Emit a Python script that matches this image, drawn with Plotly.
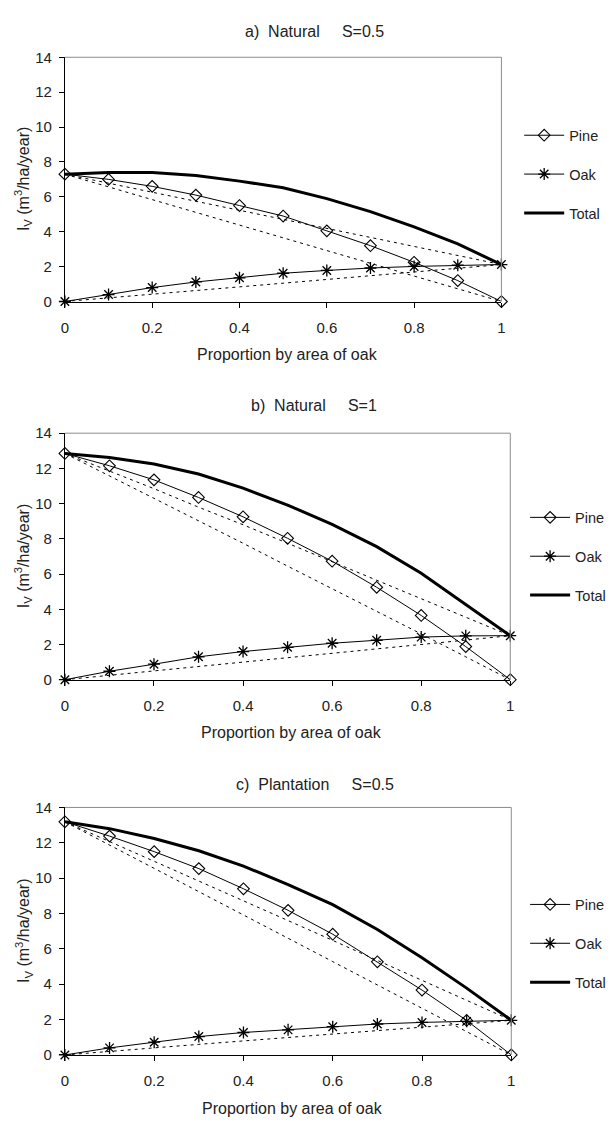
import plotly.graph_objects as go

# ---------------- data ----------------
x_prop = [0, 0.1, 0.2, 0.3, 0.4, 0.5, 0.6, 0.7, 0.8, 0.9, 1.0]
x_ticks = [0, 0.2, 0.4, 0.6, 0.8, 1.0]
x_ticklabels = ["0", "0.2", "0.4", "0.6", "0.8", "1"]
y_ticks = [0, 2, 4, 6, 8, 10, 12, 14]

SP2 = "\u00a0\u00a0"
SP6 = "\u00a0" * 5
titles = ["a)" + SP2 + "Natural" + SP6 + "S=0.5",
          "b)" + SP2 + "Natural" + SP6 + "S=1",
          "c)" + SP2 + "Plantation" + SP6 + "S=0.5"]
series_names = ["Pine", "Oak", "Total"]
x_title = "Proportion by area of oak"
y_title = "I<sub>V</sub> (m<sup>3</sup>/ha/year)"

# a) Natural S=0.5
a_pine = [7.3, 7.0, 6.6, 6.1, 5.5, 4.9, 4.05, 3.2, 2.25, 1.2, 0.0]
a_oak = [0.0, 0.4, 0.8, 1.12, 1.36, 1.62, 1.78, 1.92, 2.01, 2.08, 2.12]
a_total = [7.3, 7.4, 7.4, 7.22, 6.9, 6.52, 5.9, 5.15, 4.28, 3.3, 2.12]
a_pine_ref = [7.3, 6.57, 5.85, 5.12, 4.4, 3.66, 2.93, 2.2, 1.47, 0.74, 0.0]
a_oak_ref = [0.0, 0.2, 0.42, 0.63, 0.84, 1.05, 1.26, 1.47, 1.69, 1.9, 2.12]
a_total_ref = [7.3, 6.78, 6.28, 5.78, 5.26, 4.74, 4.2, 3.68, 3.16, 2.64, 2.12]

# b) Natural S=1
b_pine = [12.85, 12.15, 11.35, 10.35, 9.25, 8.03, 6.73, 5.25, 3.65, 1.88, 0.0]
b_oak = [0.0, 0.48, 0.88, 1.3, 1.6, 1.84, 2.07, 2.24, 2.42, 2.49, 2.5]
b_total = [12.85, 12.62, 12.25, 11.68, 10.88, 9.92, 8.82, 7.56, 6.05, 4.3, 2.5]
b_pine_ref = [12.85, 11.58, 10.3, 9.02, 7.75, 6.45, 5.18, 3.88, 2.6, 1.3, 0.0]
b_oak_ref = [0.0, 0.25, 0.5, 0.75, 1.0, 1.25, 1.5, 1.75, 2.0, 2.25, 2.5]
b_total_ref = [12.85, 11.85, 10.85, 9.8, 8.8, 7.75, 6.7, 5.65, 4.6, 3.55, 2.5]

# c) Plantation S=0.5
c_pine = [13.19, 12.38, 11.5, 10.54, 9.4, 8.18, 6.83, 5.27, 3.67, 1.95, 0.0]
c_oak = [0.0, 0.4, 0.72, 1.04, 1.27, 1.42, 1.6, 1.75, 1.84, 1.9, 1.96]
c_total = [13.19, 12.8, 12.24, 11.55, 10.68, 9.64, 8.5, 7.1, 5.5, 3.78, 1.96]
c_pine_ref = [13.19, 11.88, 10.56, 9.25, 7.93, 6.6, 5.28, 3.97, 2.65, 1.33, 0.0]
c_oak_ref = [0.0, 0.18, 0.4, 0.6, 0.8, 0.98, 1.18, 1.38, 1.57, 1.77, 1.96]
c_total_ref = [13.19, 12.08, 10.96, 9.84, 8.72, 7.6, 6.48, 5.36, 4.22, 3.1, 1.96]

panels = [
    (a_pine, a_oak, a_total, a_pine_ref, a_oak_ref, a_total_ref),
    (b_pine, b_oak, b_total, b_pine_ref, b_oak_ref, b_total_ref),
    (c_pine, c_oak, c_total, c_pine_ref, c_oak_ref, c_total_ref),
]

# ---------------- layout geometry (pixels) ----------------
W, H = 612, 1125
FONT = "Liberation Sans, Arial, sans-serif"
TXT = "#222222"
plot_boxes = [  # left, right, top, bottom in px
    (61.7, 504.0, 49.0, 297.0),
    (61.7, 513.0, 430.7, 681.0),
    (61.7, 514.0, 810.7, 1062.0),
]
title_y = [23, 402.7, 787]
title_x = [315, 314, 315]
legend_pos = [(522, 112), (528, 500), (528, 893)]

fig = go.Figure()
legend_ids = ["legend", "legend2", "legend3"]

for i, (pine, oak, total, pine_r, oak_r, total_r) in enumerate(panels):
    sfx = "" if i == 0 else str(i + 1)
    xa, ya = "x" + sfx, "y" + sfx
    lg = legend_ids[i]
    dash_line = dict(color="black", width=1, dash="3px,4px")
    for ref in (pine_r, total_r, oak_r):
        fig.add_trace(go.Scatter(x=x_prop, y=ref, mode="lines", line=dash_line,
                                 xaxis=xa, yaxis=ya, showlegend=False,
                                 hoverinfo="skip", cliponaxis=False))
    fig.add_trace(go.Scatter(
        x=x_prop, y=pine, mode="lines+markers", name=series_names[0],
        line=dict(color="black", width=1),
        marker=dict(symbol="diamond-open", size=9, color="black", line=dict(width=1.1)),
        xaxis=xa, yaxis=ya, legend=lg, legendgroup=lg + "p", cliponaxis=False))
    fig.add_trace(go.Scatter(
        x=x_prop, y=oak, mode="lines+markers", name=series_names[1],
        line=dict(color="black", width=1),
        marker=dict(symbol="asterisk-open", size=10, color="black", line=dict(width=1.3)),
        xaxis=xa, yaxis=ya, legend=lg, legendgroup=lg + "o", cliponaxis=False))
    fig.add_trace(go.Scatter(
        x=x_prop, y=total, mode="lines", name=series_names[2],
        line=dict(color="black", width=3),
        xaxis=xa, yaxis=ya, legend=lg, legendgroup=lg + "t", cliponaxis=False))

layout = dict(
    width=W, height=H, margin=dict(l=0, r=0, t=0, b=0),
    paper_bgcolor="white", plot_bgcolor="white",
    font=dict(family=FONT, size=15, color=TXT),
    showlegend=True,
)
annotations = []
shapes = []
for i, (l, r, t, b) in enumerate(plot_boxes):
    sfx = "" if i == 0 else str(i + 1)
    xdom = [l / W, r / W]
    ydom = [1 - b / H, 1 - t / H]
    axis_common = dict(showline=True, linecolor="black", linewidth=1, ticks="outside",
                       ticklen=5, tickcolor="black", tickwidth=1, showgrid=False,
                       zeroline=False, tickfont=dict(family=FONT, size=15, color=TXT))
    layout["xaxis" + sfx] = dict(axis_common, domain=xdom, range=[0, 1], tickvals=x_ticks,
                                 ticktext=x_ticklabels, anchor="y" + sfx,
                                 ticklabelstandoff=7)
    layout["yaxis" + sfx] = dict(axis_common, domain=ydom, range=[0, 14], tickvals=y_ticks,
                                 anchor="x" + sfx, ticklabelstandoff=4)
    # gray top/right border
    shapes.append(dict(type="line", xref="x" + sfx + " domain", yref="y" + sfx + " domain",
                       x0=0, x1=1, y0=1, y1=1, line=dict(color="#8c8c8c", width=1)))
    shapes.append(dict(type="line", xref="x" + sfx + " domain", yref="y" + sfx + " domain",
                       x0=1, x1=1, y0=0, y1=1, line=dict(color="#8c8c8c", width=1)))
    # panel title
    annotations.append(dict(text=titles[i], x=title_x[i] / W, y=1 - title_y[i] / H,
                            xref="paper", yref="paper", showarrow=False,
                            xanchor="center", yanchor="middle",
                            font=dict(family=FONT, size=16, color=TXT)))
    # y title
    annotations.append(dict(text=y_title, x=20 / W,
                            y=1 - ((t + b) / 2) / H, xref="paper", yref="paper",
                            showarrow=False, textangle=-90, xanchor="center",
                            yanchor="middle", font=dict(family=FONT, size=16, color=TXT)))
    # x title
    annotations.append(dict(text=x_title, x=((l + r) / 2 + 4) / W,
                            y=1 - (b + 54) / H, xref="paper", yref="paper",
                            showarrow=False, xanchor="center", yanchor="middle",
                            font=dict(family=FONT, size=16, color=TXT)))
    # legend
    lx, ly = legend_pos[i]
    layout[legend_ids[i]] = dict(x=lx / W, y=1 - ly / H, xanchor="left", yanchor="top",
                                 xref="paper", yref="paper", bgcolor="rgba(0,0,0,0)",
                                 font=dict(family=FONT, size=14.5, color=TXT),
                                 traceorder="grouped", tracegroupgap=17, itemwidth=40)

layout["annotations"] = annotations
layout["shapes"] = shapes
fig.update_layout(**layout)
fig.write_html("out.html", config={"displayModeBar": False},
               post_script="document.body.style.margin='0';document.body.style.overflow='hidden';")
